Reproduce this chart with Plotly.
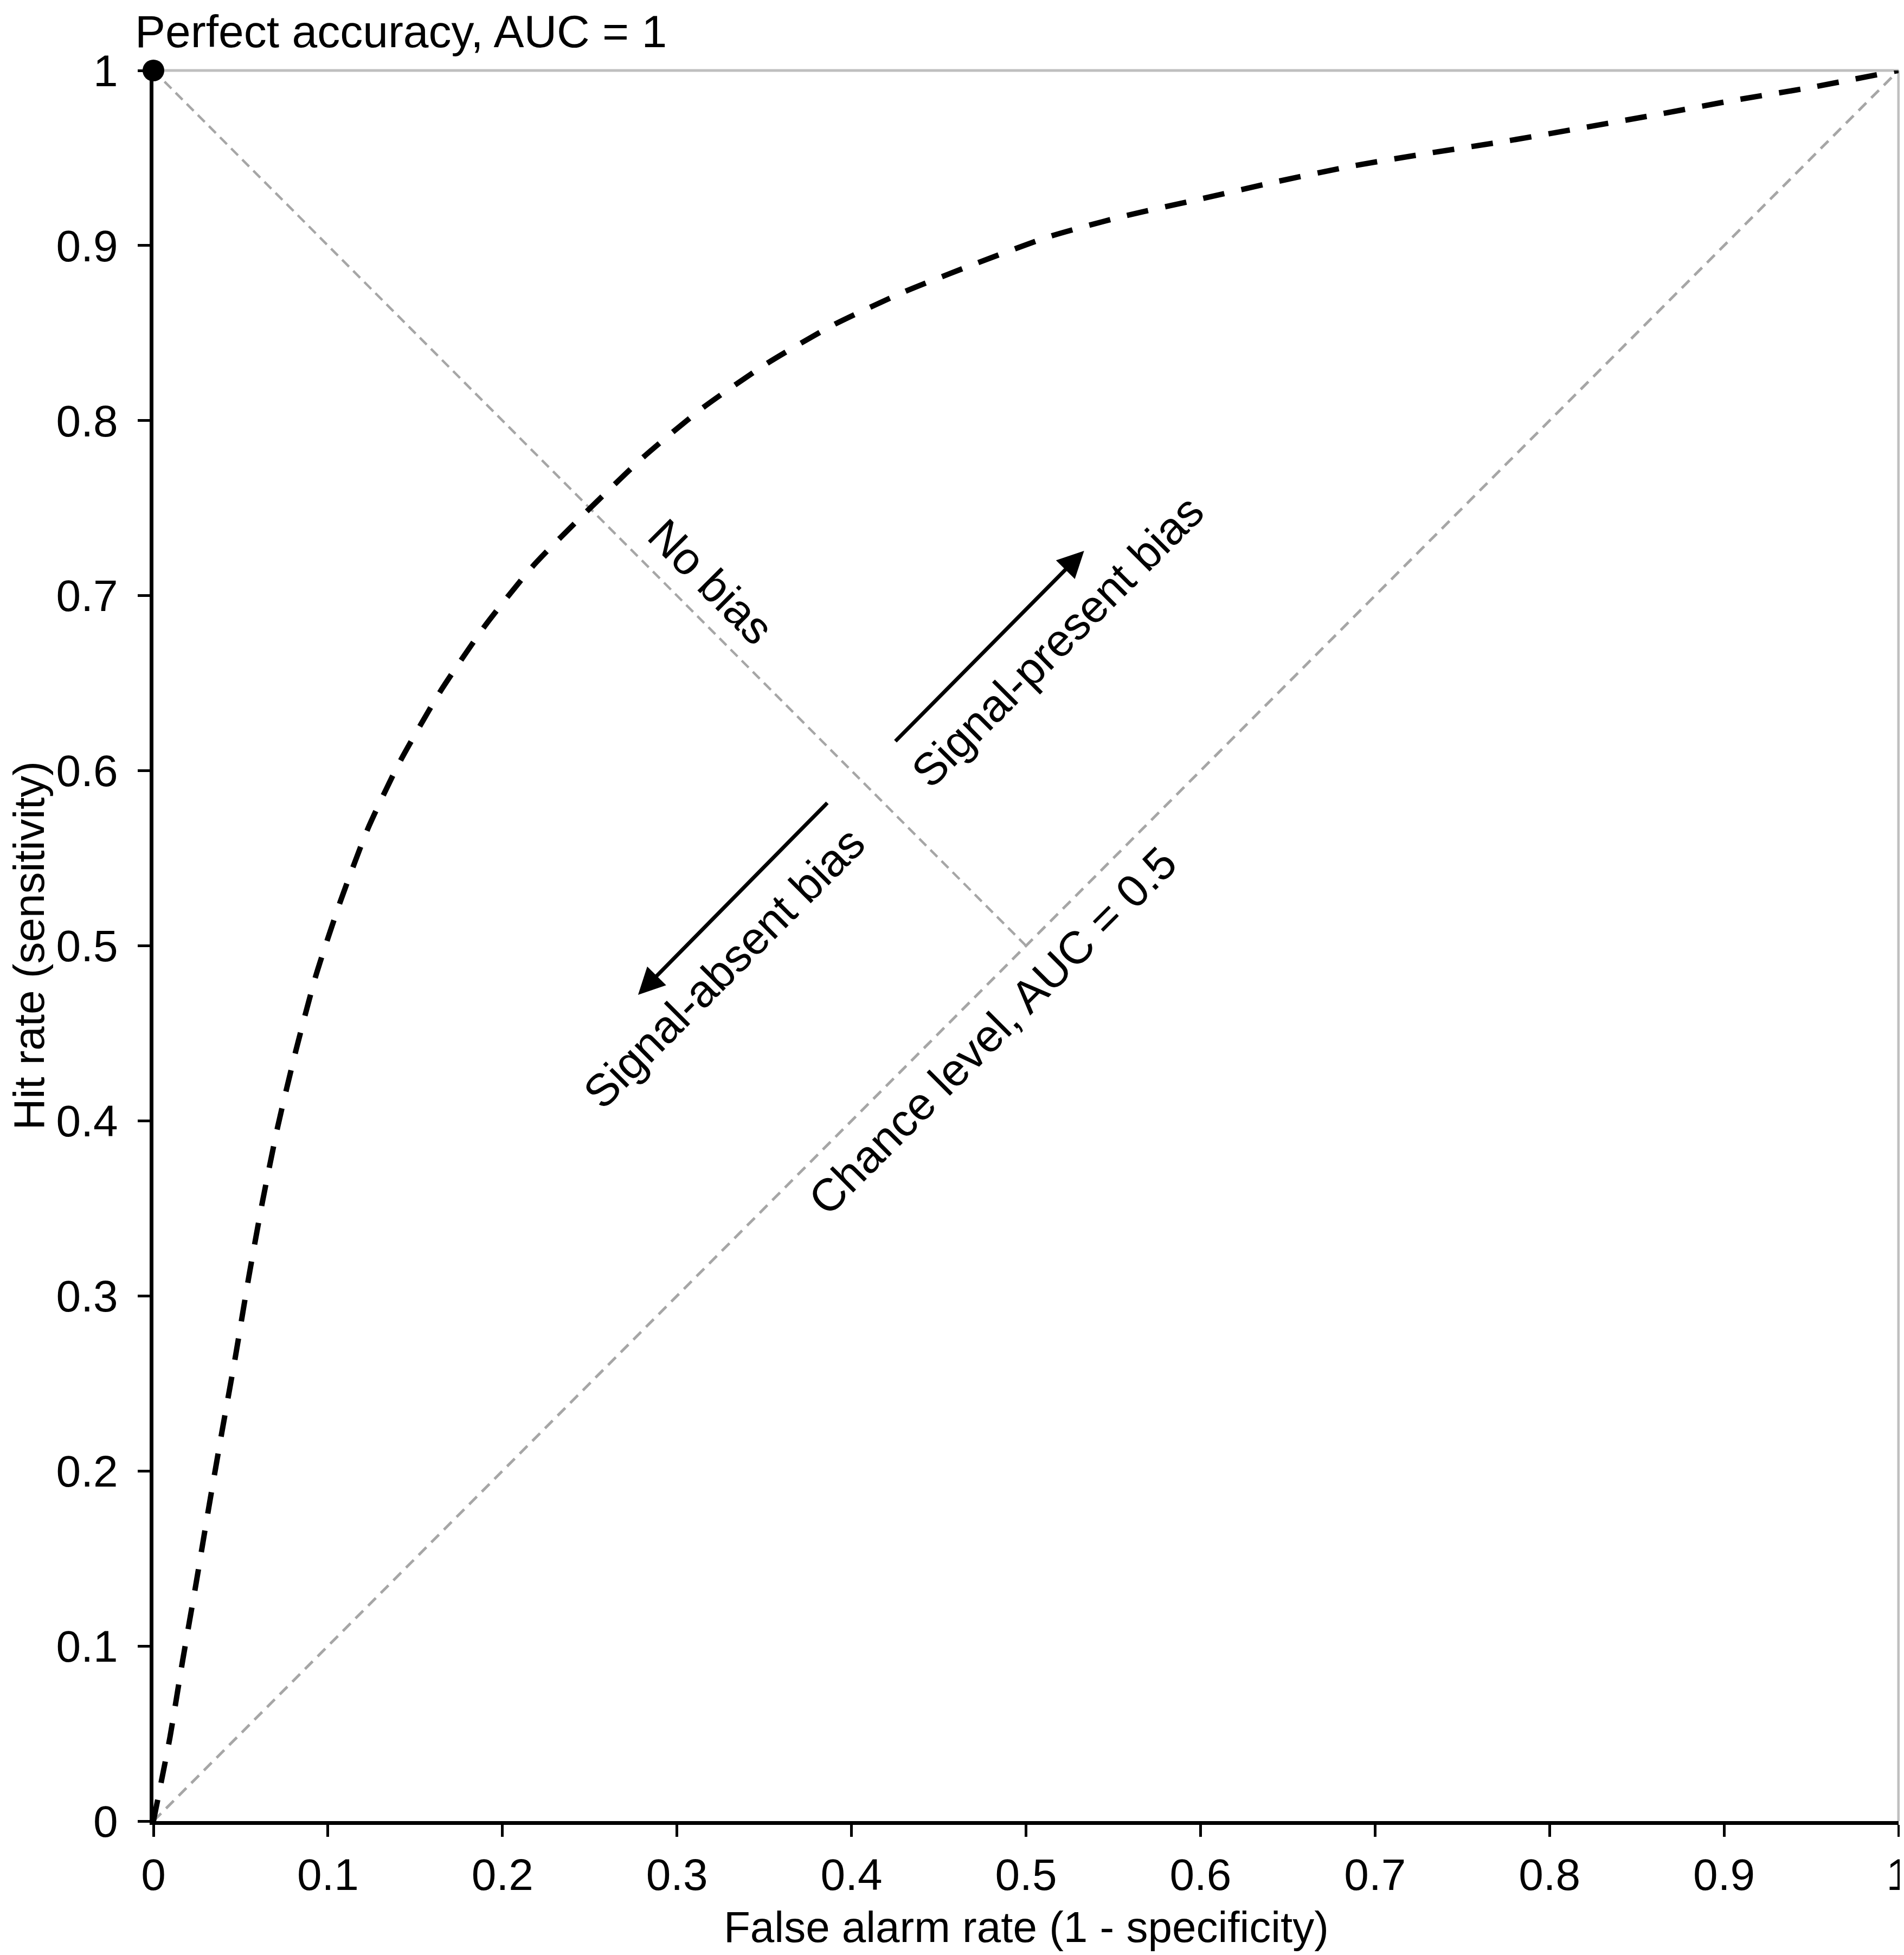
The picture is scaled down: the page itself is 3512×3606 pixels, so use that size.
import plotly.graph_objects as go

# ---- data ----
roc_fa = [0, 0.004, 0.0095, 0.0168, 0.0244, 0.0317, 0.0392, 0.0471, 0.0545, 0.0624,
          0.0713, 0.0816, 0.0931, 0.107, 0.1228, 0.1406, 0.1644, 0.190, 0.2179, 0.2486,
          0.2808, 0.3148, 0.3515, 0.3897, 0.4301, 0.4717, 0.5133, 0.5565, 0.5997, 0.6432,
          0.6864, 0.7304, 0.7743, 0.8175, 0.8621, 0.9047, 0.948, 1.0]
roc_hr = [0, 0.020, 0.048, 0.092, 0.1355, 0.179, 0.222, 0.266, 0.310, 0.3534,
          0.397, 0.440, 0.483, 0.525, 0.5667, 0.604, 0.6453, 0.6828, 0.7174, 0.7484,
          0.7792, 0.8073, 0.8326, 0.8547, 0.8735, 0.8899, 0.9051, 0.9169, 0.9265, 0.9364,
          0.9453, 0.9527, 0.9595, 0.967, 0.9749, 0.9828, 0.990, 1.0]

chance_x = [0, 1]
chance_y = [0, 1]
nobias_x = [0, 0.5]
nobias_y = [1, 0.5]
perfect_x = [0]
perfect_y = [1]

tick_vals = [0, 0.1, 0.2, 0.3, 0.4, 0.5, 0.6, 0.7, 0.8, 0.9, 1]
tick_text = ["0", "0.1", "0.2", "0.3", "0.4", "0.5", "0.6", "0.7", "0.8", "0.9", "1"]

x_title = "False alarm rate (1 - specificity)"
y_title = "Hit rate (sensitivity)"
top_title = "Perfect accuracy, AUC = 1"

# label text, position (x, y), angle
labels = [
    ("No bias", 0.3195, 0.708, 45),
    ("Signal-present bias", 0.518, 0.674, -45),
    ("Signal-absent bias", 0.327, 0.4875, -45),
    ("Chance level, AUC = 0.5", 0.481, 0.4515, -45),
]
# arrows: (head_x, head_y, tail_x, tail_y)
arrows = [
    (0.5333, 0.7256, 0.4247, 0.6164),
    (0.2777, 0.472, 0.3866, 0.5821),
]

FONT = "Liberation Sans, Arial, sans-serif"
GRAY = "#a6a6a6"

fig = go.Figure()
fig.add_trace(go.Scatter(x=chance_x, y=chance_y, mode="lines",
                         line=dict(color=GRAY, width=5, dash="20px,13px"),
                         cliponaxis=False, showlegend=False, hoverinfo="skip"))
fig.add_trace(go.Scatter(x=nobias_x, y=nobias_y, mode="lines",
                         line=dict(color=GRAY, width=4.5, dash="18px,11px"),
                         cliponaxis=False, showlegend=False, hoverinfo="skip"))
fig.add_trace(go.Scatter(x=roc_fa, y=roc_hr, mode="lines",
                         line=dict(color="black", width=10, dash="40px,32px", shape="spline", smoothing=0.6),
                         cliponaxis=False, showlegend=False))
fig.add_trace(go.Scatter(x=perfect_x, y=perfect_y, mode="markers",
                         marker=dict(color="black", size=40),
                         cliponaxis=False, showlegend=False))

# light gray frame on top and right
fig.add_shape(type="line", xref="paper", yref="paper", x0=0, x1=1, y0=1, y1=1,
              line=dict(color="#bfbfbf", width=5), layer="below")
fig.add_shape(type="line", xref="paper", yref="paper", x0=1, x1=1, y0=0, y1=1,
              line=dict(color="#bfbfbf", width=5), layer="below")

annotations = []
for text, x, y, ang in labels:
    annotations.append(dict(text=text, x=x, y=y, xref="x", yref="y", showarrow=False,
                            textangle=ang, font=dict(family=FONT, size=84, color="black"),
                            xanchor="center", yanchor="middle"))
for hx, hy, tx, ty in arrows:
    annotations.append(dict(text="", x=hx, y=hy, ax=tx, ay=ty, xref="x", yref="y",
                            axref="x", ayref="y", showarrow=True, arrowhead=2,
                            arrowsize=1.4, arrowwidth=7, arrowcolor="black", standoff=0))
annotations.append(dict(text=top_title, x=-0.0112, y=1.0375,
                        xref="paper", yref="paper", showarrow=False, xanchor="left", yanchor="top",
                        font=dict(family=FONT, size=84, color="black")))
annotations.append(dict(text=x_title, x=0.5, y=-0.0605,
                        xref="paper", yref="paper", showarrow=False, xanchor="center", yanchor="middle",
                        font=dict(family=FONT, size=80, color="black")))
annotations.append(dict(text=y_title, x=-0.0712, y=0.5, textangle=-90,
                        xref="paper", yref="paper", showarrow=False, xanchor="center", yanchor="middle",
                        font=dict(family=FONT, size=80, color="black")))

axis_common = dict(
    range=[0, 1], tickvals=tick_vals, ticktext=tick_text,
    showgrid=False, zeroline=False, showline=True, linecolor="black", linewidth=7,
    ticks="outside", ticklen=22, tickwidth=5, tickcolor="black",
    tickfont=dict(family=FONT, size=82, color="black"),
    ticklabeloverflow="allow",
)

fig.update_layout(
    width=3512, height=3606,
    margin=dict(l=275, r=18, t=122, b=255, autoexpand=False),
    paper_bgcolor="white", plot_bgcolor="white",
    xaxis=dict(**axis_common, ticklabelstandoff=0),
    yaxis=dict(**axis_common, ticklabelstandoff=20),
    annotations=annotations,
    showlegend=False,
)

fig.write_html("out.html")
